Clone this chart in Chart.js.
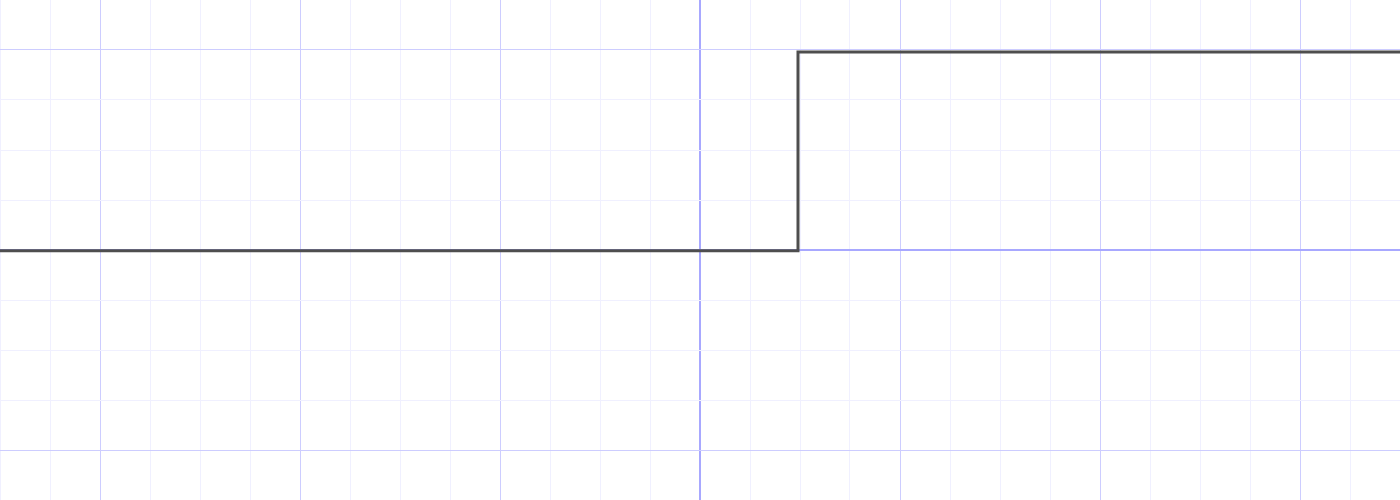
<!DOCTYPE html>
<html>
<head>
<meta charset="utf-8">
<title>Step</title>
<script src="https://cdn.jsdelivr.net/npm/chart.js@4/dist/chart.umd.min.js"></script>
<style>
    html, body { margin: 0; padding: 0; background: #ffffff; }
    #stepChart { display: block; }
</style>
</head>
<body>
<canvas id="stepChart" width="1400" height="500"></canvas>
<script>
// step function
const stepX = [-3.5, 0.49, 0.49, 3.5];
const stepY = [-0.004, -0.004, 0.99, 0.99];

const xRange = [-3.5, 3.5];
const yRange = [-1.25, 1.25];
const gridStep = 0.25;

(function () {
    function gridColor(ctx) {
        const v = Math.round(ctx.tick.value * 1000) / 1000;
        if (v === 0) return '#a8a8ff';
        if (ctx.scale.axis === 'y' && v === yRange[1]) return 'rgba(0,0,0,0)';
        if (Number.isInteger(v)) return '#cdcdff';
        return '#f0f0ff';
    }

    function gridWidth(ctx) {
        const v = Math.round(ctx.tick.value * 1000) / 1000;
        return v === 0 ? 2 : 1;
    }

    function axis(range) {
        return {
            type: 'linear',
            min: range[0],
            max: range[1],
            border: { display: false },
            ticks: { display: false, stepSize: gridStep },
            grid: { drawTicks: false, color: gridColor, lineWidth: gridWidth },
        };
    }

    const canvas = document.getElementById('stepChart');
    new Chart(canvas, {
        type: 'line',
        data: {
            datasets: [{
                data: stepX.map((x, i) => ({ x: x, y: stepY[i] })),
                borderColor: '#4e4e4e',
                borderWidth: 3,
                pointRadius: 0,
                tension: 0,
                fill: false,
            }],
        },
        options: {
            responsive: false,
            animation: false,
            layout: { padding: 0 },
            plugins: { legend: { display: false }, tooltip: { enabled: false } },
            scales: { x: axis(xRange), y: axis(yRange) },
        },
    });
})();
</script>
</body>
</html>
